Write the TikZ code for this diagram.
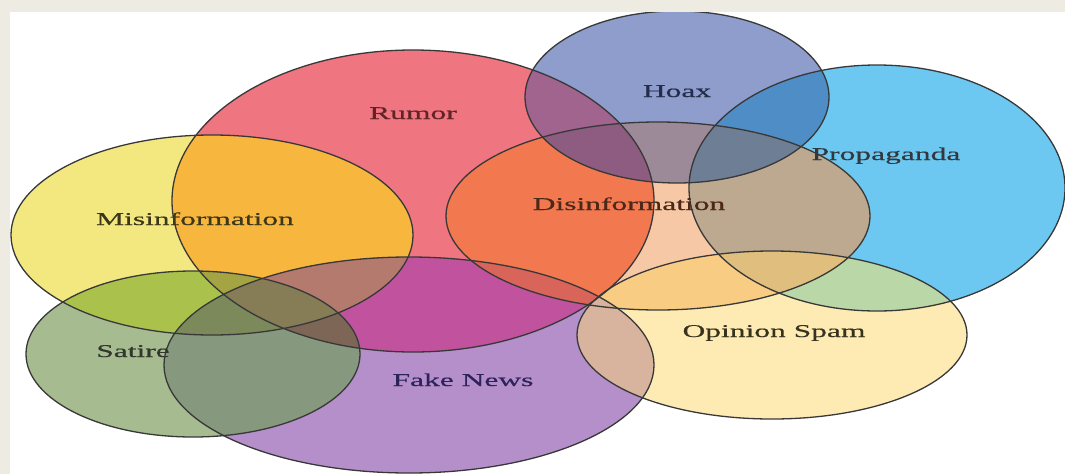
\documentclass[tikz,border=0pt]{standalone}
\usepackage{fontspec}
\newfontfamily\lblfont[FakeStretch=1.75, FakeBold=0.5]{Liberation Serif}

% fills of the single sets
\definecolor{bgframe}{HTML}{EEEBE3}
\definecolor{cRumor}{HTML}{EF7580}
\definecolor{cProp}{HTML}{6CC8F0}
\definecolor{cDis}{HTML}{F6C8A6}
\definecolor{cHoax}{HTML}{8E9DCB}
\definecolor{cMis}{HTML}{F3E880}
\definecolor{cFake}{HTML}{B58FC9}
\definecolor{cSat}{HTML}{A6BB8F}
\definecolor{cSpam}{HTML}{FDEBB3}
% fills of the overlaps
\definecolor{cDisR}{HTML}{F2784F}
\definecolor{cDisP}{HTML}{BCA98F}
\definecolor{cHoaxR}{HTML}{A0648F}
\definecolor{cHoaxP}{HTML}{4F8DC6}
\definecolor{cHoaxD}{HTML}{9C8A98}
\definecolor{cHoaxDR}{HTML}{8E5C80}
\definecolor{cHoaxDP}{HTML}{6E7E94}
\definecolor{cMisR}{HTML}{F7B63E}
\definecolor{cFakeR}{HTML}{C1529E}
\definecolor{cFakeM}{HTML}{B8A080}
\definecolor{cFakeMR}{HTML}{B57A6E}
\definecolor{cFakeD}{HTML}{D8A080}
\definecolor{cFakeDR}{HTML}{D8645A}
\definecolor{cSatM}{HTML}{AAC24C}
\definecolor{cSatMR}{HTML}{A4A443}
\definecolor{cSatF}{HTML}{86987E}
\definecolor{cSatFR}{HTML}{7E6656}
\definecolor{cSatFM}{HTML}{7C895A}
\definecolor{cSatFMR}{HTML}{867C56}
\definecolor{cSpamD}{HTML}{F8CC82}
\definecolor{cSpamP}{HTML}{BAD7A8}
\definecolor{cSpamDP}{HTML}{DFBE7E}
\definecolor{cSpamF}{HTML}{D8B49F}
% label colours
\definecolor{tRumor}{HTML}{5F2328}
\definecolor{tMis}{HTML}{3C3719}
\definecolor{tHoax}{HTML}{232D4B}
\definecolor{tProp}{HTML}{33383F}
\definecolor{tDis}{HTML}{4B2819}
\definecolor{tSat}{HTML}{32372D}
\definecolor{tFake}{HTML}{2D235A}
\definecolor{tSpam}{HTML}{37321E}

% the eight sets
\newcommand\elRumor{(413,201) ellipse [x radius=241pt, y radius=151pt]}
\newcommand\elHoax{(677,97) ellipse [x radius=152pt, y radius=86pt]}
\newcommand\elProp{(877,188) ellipse [x radius=188pt, y radius=123pt]}
\newcommand\elDis{(658,216) ellipse [x radius=212pt, y radius=94pt]}
\newcommand\elMis{(212,235) ellipse [x radius=201pt, y radius=100pt]}
\newcommand\elSat{(193,354) ellipse [x radius=167pt, y radius=83pt]}
\newcommand\elFake{(409,365) ellipse [x radius=245pt, y radius=108pt]}
\newcommand\elSpam{(772,335) ellipse [x radius=195pt, y radius=84pt]}

\begin{document}
\begin{tikzpicture}[x=1pt, y=-1pt,
  lbl/.style={anchor=base, inner sep=0pt, font=\lblfont\fontsize{18}{20}\selectfont},
  rim/.style={draw=black!78, line width=1.3pt}]
\useasboundingbox (0,0) rectangle (1065,474);
\fill[bgframe] (0,0) rectangle (1065,474);
\fill[white] (10,12) rectangle (1065,474);

\begin{scope}
\clip (10,12) rectangle (1065,474);
% Rumor, Propaganda, Disinformation
\fill[cRumor] \elRumor;
\fill[cProp] \elProp;
\fill[cDis] \elDis;
\begin{scope}\clip \elRumor; \fill[cDisR] \elDis; \end{scope}
\begin{scope}\clip \elProp; \fill[cDisP] \elDis; \end{scope}
% Hoax
\fill[cHoax] \elHoax;
\begin{scope}\clip \elHoax;
  \fill[cHoaxR] \elRumor;
  \fill[cHoaxP] \elProp;
  \fill[cHoaxD] \elDis;
  \begin{scope}\clip \elDis;
    \fill[cHoaxDR] \elRumor;
    \fill[cHoaxDP] \elProp;
  \end{scope}
\end{scope}
% Misinformation
\fill[cMis] \elMis;
\begin{scope}\clip \elMis; \fill[cMisR] \elRumor; \end{scope}
% Fake News
\fill[cFake] \elFake;
\begin{scope}\clip \elFake;
  \fill[cFakeM] \elMis;
  \fill[cFakeR] \elRumor;
  \fill[cFakeD] \elDis;
  \begin{scope}\clip \elRumor;
    \fill[cFakeMR] \elMis;
    \fill[cFakeDR] \elDis;
  \end{scope}
\end{scope}
% Satire
\fill[cSat] \elSat;
\begin{scope}\clip \elSat;
  \fill[cSatM] \elMis;
  \begin{scope}\clip \elMis; \fill[cSatMR] \elRumor; \end{scope}
  \fill[cSatF] \elFake;
  \begin{scope}\clip \elFake;
    \fill[cSatFR] \elRumor;
    \fill[cSatFM] \elMis;
    \begin{scope}\clip \elMis; \fill[cSatFMR] \elRumor; \end{scope}
  \end{scope}
\end{scope}
% Opinion Spam
\fill[cSpam] \elSpam;
\begin{scope}\clip \elSpam;
  \fill[cSpamD] \elDis;
  \fill[cSpamP] \elProp;
  \fill[cSpamF] \elFake;
  \begin{scope}\clip \elDis; \fill[cSpamDP] \elProp; \end{scope}
\end{scope}
% outlines
\draw[rim] \elRumor;
\draw[rim] \elHoax;
\draw[rim] \elProp;
\draw[rim] \elDis;
\draw[rim] \elMis;
\draw[rim] \elSat;
\draw[rim] \elFake;
\draw[rim] \elSpam;
\end{scope}

% set names
\node[lbl, text=tRumor] (rumor) at (413,119) {Rumor};
\node[lbl, text=tMis] (misinfo) at (195,225) {Misinformation};
\node[lbl, text=tHoax] (hoax) at (677,97) {Hoax};
\node[lbl, text=tProp] (propaganda) at (886,160) {Propaganda};
\node[lbl, text=tDis] (disinfo) at (629,210) {Disinformation};
\node[lbl, text=tSat] (satire) at (133,357) {Satire};
\node[lbl, text=tFake] (fakenews) at (463,386) {Fake News};
\node[lbl, text=tSpam] (spam) at (774,337) {Opinion Spam};
\end{tikzpicture}
\end{document}
